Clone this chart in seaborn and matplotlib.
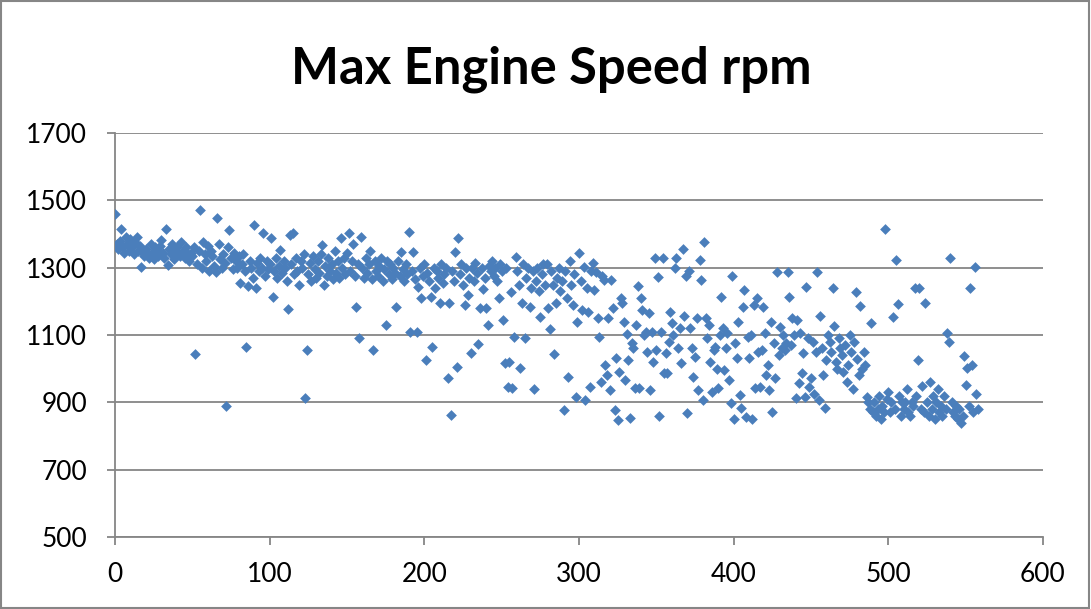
import numpy as np
import pandas as pd
import seaborn as sns
import matplotlib.pyplot as plt
from matplotlib.patches import Rectangle

# max engine speed per record (x = record index)
rpm = [
    1460, 1370, 1355, 1380, 1415, 1360, 1345, 1390, 1370, 1350,
    1385, 1360, 1340, 1375, 1390, 1350, 1365, 1302, 1345, 1335,
    1355, 1340, 1330, 1370, 1345, 1325, 1360, 1350, 1335, 1365,
    1382, 1345, 1330, 1415, 1308, 1355, 1340, 1370, 1325, 1350,
    1360, 1345, 1335, 1375, 1350, 1330, 1360, 1340, 1320, 1345,
    1335, 1360, 1044, 1310, 1350, 1471, 1300, 1375, 1340, 1320,
    1365, 1290, 1350, 1335, 1305, 1287, 1447, 1370, 1325, 1300,
    1340, 1315, 889, 1360, 1412, 1330, 1295, 1345, 1320, 1300,
    1335, 1254, 1310, 1340, 1290, 1065, 1245, 1320, 1300, 1270,
    1427, 1240, 1315, 1290, 1330, 1300, 1403, 1275, 1320, 1295,
    1310, 1388, 1213, 1290, 1330, 1270, 1305, 1352, 1285, 1320,
    1300, 1260, 1177, 1397, 1310, 1403, 1280, 1330, 1290, 1250,
    1320, 1300, 1340, 913, 1056, 1280, 1315, 1260, 1335, 1295,
    1270, 1320, 1285, 1340, 1367, 1250, 1305, 1275, 1330, 1290,
    1310, 1265, 1350, 1285, 1320, 1270, 1388, 1300, 1330, 1280,
    1345, 1403, 1290, 1320, 1370, 1275, 1183, 1310, 1091, 1391,
    1300, 1270, 1330, 1285, 1310, 1350, 1265, 1056, 1320, 1290,
    1275, 1305, 1330, 1260, 1295, 1130, 1320, 1280, 1310, 1265,
    1300, 1285, 1183, 1320, 1275, 1347, 1295, 1260, 1310, 1280,
    1406, 1109, 1290, 1347, 1265, 1109, 1243, 1300, 1210, 1275,
    1310, 1026, 1285, 1260, 1213, 1065, 1300, 1240, 1290, 1270,
    1195, 1310, 1255, 1280, 1300, 972, 1195, 862, 1290, 1260,
    1347, 1005, 1388, 1280, 1310, 1250, 1189, 1300, 1219, 1270,
    1047, 1300, 1260, 1315, 1285, 1073, 1180, 1300, 1237, 1270,
    1180, 1130, 1305, 1290, 1320, 1275, 1300, 1260, 1210, 1310,
    1290, 1145, 1017, 1300, 946, 1020, 1228, 943, 1094, 1332,
    1290, 1250, 1002, 1195, 1310, 1091, 1270, 1300, 1183, 1240,
    1290, 940, 1260, 1300, 1230, 1154, 1280, 1310, 1250, 1311,
    1180, 1118, 1290, 1250, 1044, 1195, 1270, 1300, 1230, 1260,
    877, 1290, 1210, 975, 1320, 1250, 1189, 1280, 916, 1139,
    1344, 1260, 1174, 1302, 907, 1240, 1168, 946, 1290, 1314,
    1234, 1287, 1150, 1094, 961, 1275, 1263, 1011, 982, 1150,
    937, 1263, 1180, 877, 1032, 848, 991, 1210, 1195, 1140,
    966, 1103, 1026, 854, 1076, 1061, 943, 1130, 1246, 943,
    1210, 1174, 1100, 1109, 1050, 1165, 937, 1109, 1020, 1329,
    1056, 1272, 859, 1109, 1329, 987, 1047, 987, 1080, 1168,
    1136, 1100, 1299, 1329, 1060, 1121, 1017, 1355, 1156, 1275,
    868, 1290, 1120, 1060, 975, 1035, 1150, 937, 1323, 1263,
    907, 1376, 1150, 1091, 1130, 1020, 931, 1056, 1065, 1000,
    943, 1100, 1213, 1121, 996, 1060, 1106, 966, 898, 1275,
    850, 1076, 1032, 1140, 922, 883, 1183, 1234, 856, 1094,
    1032, 1100, 850, 1190, 943, 1210, 1050, 946, 1056, 1183,
    1106, 982, 1011, 937, 1140, 871, 1076, 973, 1287, 1040,
    1124, 1060, 1100, 1056, 1075, 1287, 1213, 1070, 1150, 1100,
    913, 1145, 958, 1106, 987, 1047, 916, 1243, 1090, 946,
    973, 1079, 925, 1050, 1287, 907, 1156, 1061, 982, 883,
    1026, 1100, 1080, 1050, 1240, 1127, 1020, 1000, 1090, 1060,
    1040, 990, 1070, 960, 1010, 1100, 1050, 940, 1080, 1228,
    1030, 980, 1186, 1000, 1050, 1010, 916, 900, 880, 1136,
    870, 900, 860, 880, 920, 850, 890, 870, 1415, 910,
    930, 870, 900, 1153, 880, 1323, 1192, 920, 860, 900,
    880, 900, 940, 870, 860, 900, 890, 1240, 920, 1026,
    1240, 880, 950, 870, 1195, 900, 860, 960, 880, 920,
    850, 900, 940, 870, 890, 860, 920, 880, 1106, 1079,
    1329, 900, 870, 860, 890, 850, 880, 840, 860, 1038,
    952, 1002, 890, 1240, 1010, 870, 1302, 925, 880,
]

df = pd.DataFrame({"record": np.arange(len(rpm)), "rpm": rpm})

sns.set_style("white")
plt.rcParams['font.family'] = ['Lato', 'DejaVu Sans']

fig = plt.figure(figsize=(10.91, 6.09), dpi=100)
ax = fig.add_axes([0.1054, 0.1182, 0.8506, 0.6634])

sns.scatterplot(data=df, x="record", y="rpm", marker="D", s=30,
                color="#4A7EBB", linewidth=0, ax=ax, zorder=3)

ax.set_xlim(0, 600)
ax.set_ylim(500, 1700)
ax.set_xticks(range(0, 601, 100))
ax.set_yticks(range(500, 1701, 200))
ax.yaxis.grid(True, color="#868686", linewidth=1.3)
ax.set_axisbelow(True)
ax.set_xlabel("")
ax.set_ylabel("")
for side in ["top", "right"]:
    ax.spines[side].set_visible(False)
for side in ["left", "bottom"]:
    ax.spines[side].set_color("#868686")
    ax.spines[side].set_linewidth(1.3)
ax.tick_params(axis="both", direction="out", length=6, width=1.3,
               color="#868686", labelsize=19, labelcolor="black",
               bottom=True, left=True)
ax.tick_params(axis="x", pad=12)
ax.tick_params(axis="y", pad=14)

fig.text(0.505, 0.886, "Max Engine Speed rpm", ha="center", va="center",
         fontsize=36.5, fontweight="bold", color="black")

fig.patches.append(Rectangle((0.001, 0.001), 0.997, 0.997, transform=fig.transFigure,
                             fill=False, edgecolor="#868686", linewidth=1.5))

fig.savefig("out.png", dpi=100)
